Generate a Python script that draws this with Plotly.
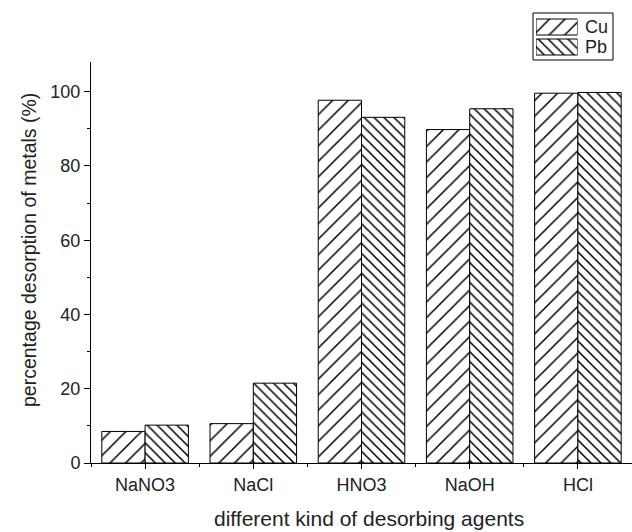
import plotly.graph_objects as go

agents = ["NaNO3", "NaCl", "HNO3", "NaOH", "HCl"]
cu_values = [8.5, 10.6, 97.7, 89.8, 99.6]
pb_values = [10.2, 21.5, 93.1, 95.4, 99.8]
y_ticks = [0, 20, 40, 60, 80, 100]

# Legend key: one full-width swatch per metal
legend_names = ["Pb", "Cu"]
legend_fill = [1, 1]

x_title = "different kind of desorbing agents"
y_title = "percentage desorption of metals (%)"

positions = list(range(len(agents)))

styles = {
    "Cu": dict(shape="/", size=11, solidity=0.14),
    "Pb": dict(shape="\\", size=7, solidity=0.22),
}


def marker_for(metal):
    s = styles[metal]
    return dict(color="white", line=dict(color="black", width=1),
                pattern=dict(shape=s["shape"], fgcolor="black", bgcolor="white",
                             size=s["size"], solidity=s["solidity"], fillmode="replace"))


fig = go.Figure()
fig.add_trace(go.Bar(x=positions, y=cu_values, name="Cu", marker=marker_for("Cu"),
                     showlegend=False))
fig.add_trace(go.Bar(x=positions, y=pb_values, name="Pb", marker=marker_for("Pb"),
                     showlegend=False))

# Legend swatches drawn as bars on a small inset axis
for name, val in zip(legend_names, legend_fill):
    fig.add_trace(go.Bar(
        x=[val], y=[name], orientation="h", width=0.8, marker=marker_for(name),
        xaxis="x2", yaxis="y2", showlegend=False, hoverinfo="skip",
    ))

font = "Liberation Sans, Arial, sans-serif"
H = 532
plot_h = H - 69  # height of the plotting region (top margin 0)


def py(pix):
    return (plot_h - pix) / plot_h


def px(pix):
    return (pix - 91) / 541


annotations = [
    dict(text=name, xref="paper", yref="y2", x=px(583), y=name,
         xanchor="left", yanchor="middle", showarrow=False,
         font=dict(size=18, color="#222"))
    for name in legend_names
]
annotations.append(dict(text=x_title, xref="paper", yref="paper", x=px(369), y=py(518),
                        xanchor="center", yanchor="middle", showarrow=False,
                        font=dict(size=21, color="#222")))
annotations.append(dict(text=y_title, xref="paper", yref="paper", x=px(29), y=py(250),
                        xanchor="center", yanchor="middle", showarrow=False, textangle=-90,
                        font=dict(size=19.5, color="#222")))

fig.update_layout(
    width=632, height=H,
    margin=dict(l=91, r=0, t=0, b=69, autoexpand=False),
    paper_bgcolor="white", plot_bgcolor="white",
    barmode="group", bargap=0.2, bargroupgap=0,
    font=dict(family=font, size=18, color="#222"),
    showlegend=False,
    xaxis=dict(
        range=[-0.5, 4.5], tickvals=positions, ticktext=agents,
        showline=True, linecolor="black", linewidth=1,
        ticks="outside", ticklen=5, tickcolor="black",
        minor=dict(tickvals=[-0.5, 0.5, 1.5, 2.5, 3.5, 4.5], ticks="outside",
                   ticklen=3, tickcolor="black"),
        showgrid=False, zeroline=False,
    ),
    yaxis=dict(
        domain=[0, py(62)],
        range=[0, 108], tickvals=y_ticks,
        showline=True, linecolor="black", linewidth=1,
        ticks="outside", ticklen=6, tickcolor="black",
        minor=dict(dtick=10, ticks="outside", ticklen=3, tickcolor="black"),
        showgrid=False, zeroline=False,
    ),
    xaxis2=dict(domain=[px(536), px(577.5)], range=[0, 1], anchor="y2",
                visible=False, fixedrange=True),
    yaxis2=dict(domain=[py(57), py(17)], range=[-0.5, 1.5], anchor="x2",
                visible=False, fixedrange=True),
    shapes=[dict(type="rect", xref="paper", yref="paper",
                 x0=px(533), x1=px(613), y0=py(60), y1=py(13),
                 line=dict(color="black", width=1), fillcolor="rgba(0,0,0,0)")],
    annotations=annotations,
)

fig.write_html("out.html")
